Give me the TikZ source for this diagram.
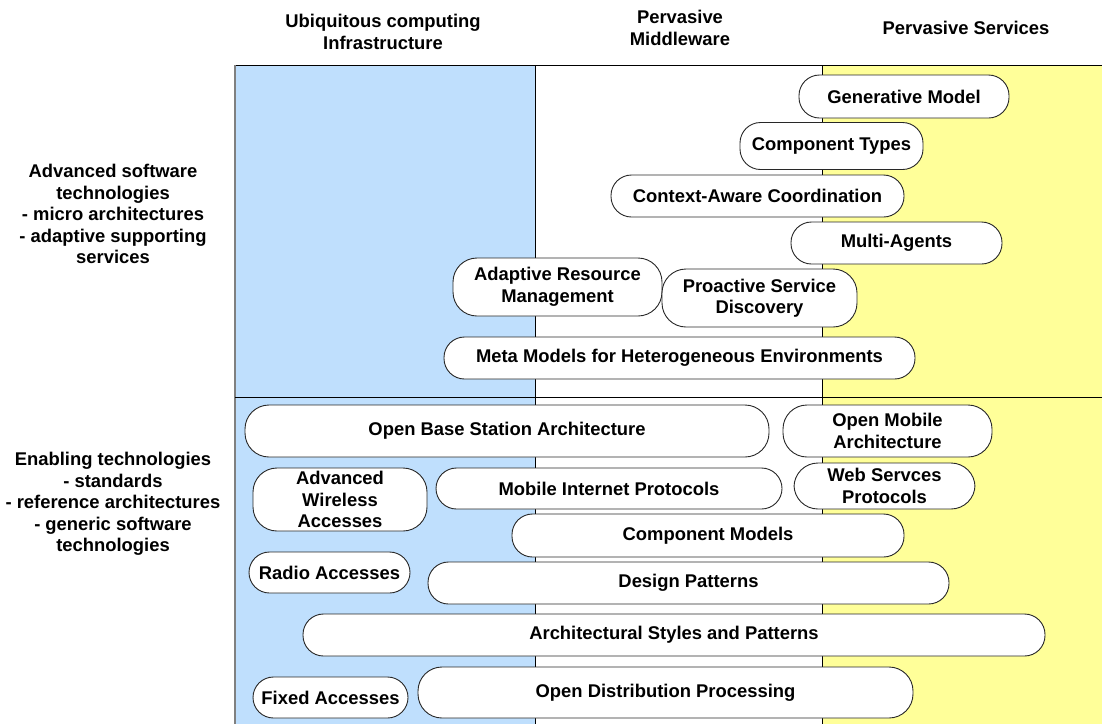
\documentclass[tikz,border=0pt]{standalone}
\usepackage{fontspec}
\setmainfont{Liberation Sans}
\definecolor{colblue}{RGB}{191,223,253}
\definecolor{colyellow}{RGB}{255,255,153}
\definecolor{boxline}{RGB}{40,40,40}
\begin{document}
\begin{tikzpicture}[x=1pt,y=-1pt,
  pill/.style={draw=boxline, line width=0.9pt, fill=white, rounded corners=20.5pt,
    inner sep=0pt, align=center, font=\fontsize{18.4}{21.5}\selectfont\bfseries},
  pillbig/.style={pill, rounded corners=24pt},
  hdr/.style={align=center, inner sep=0pt, font=\fontsize{18.4}{21.5}\selectfont\bfseries},
  rule/.style={line width=1pt, black}]
\useasboundingbox (0,0) rectangle (1102,724);
% columns
\fill[colblue] (235,65) rectangle (535,724);
\fill[colyellow] (822,65) rectangle (1102,724);
\draw[rule] (235,65) -- (1102,65);
\draw[line width=2pt, gray] (235,65) -- (235,724);
\draw[rule] (535,65) -- (535,724);
\draw[rule] (822,65) -- (822,724);
\draw[rule] (235,397) -- (1102,397);
% headers
\node[hdr] (h1) at (383,32) {Ubiquitous computing\\Infrastructure};
\node[hdr] (h2) at (680,28) {Pervasive\\Middleware};
\node[hdr] (h3) at (966,28) {Pervasive Services};
\node[hdr] (r1) at (113,214) {Advanced software\\technologies\\- micro architectures\\- adaptive supporting\\services};
\node[hdr] (r2) at (113,504) {Enabling technologies\\- standards\\- reference architectures\\- generic software\\technologies};
% upper boxes
\node[pill, minimum width=210pt, minimum height=43pt] (gen) at (904,96.5) {Generative Model};
\node[pill, minimum width=183pt, minimum height=47pt] (ctypes) at (831.5,146) {Component Types};
\node[pill, minimum width=293pt, minimum height=42pt] (ctx) at (757.5,196) {Context-Aware Coordination};
\node[pill, minimum width=211pt, minimum height=42pt] (multi) at (896.5,243) {Multi-Agents};
\node[pillbig, minimum width=209pt, minimum height=58pt] (arm) at (557.5,287) {Adaptive Resource\\Management};
\node[pillbig, minimum width=195pt, minimum height=58pt] (psd) at (759.5,298) {Proactive Service\\Discovery};
\node[pill, minimum width=471pt, minimum height=42pt] (meta) at (679.5,358) {Meta Models for Heterogeneous Environments};
% lower boxes
\node[pillbig, minimum width=524pt, minimum height=52pt] (obsa) at (507,431) {Open Base Station Architecture};
\node[pillbig, minimum width=209pt, minimum height=52pt] (oma) at (887.5,431) {Open Mobile\\Architecture};
\node[pillbig, minimum width=174pt, minimum height=63pt] (awa) at (340,499.5) {Advanced\\Wireless\\Accesses};
\node[pill, minimum width=346pt, minimum height=41pt] (mip) at (609,488.5) {Mobile Internet Protocols};
\node[pillbig, minimum width=181pt, minimum height=46pt] (wsp) at (884.5,486) {Web Servces\\Protocols};
\node[pill, minimum width=392pt, minimum height=43pt] (cm) at (708,535.5) {Component Models};
\node[pill, minimum width=161pt, minimum height=41pt] (radio) at (329.5,572.5) {Radio Accesses};
\node[pill, minimum width=521pt, minimum height=42pt] (dp) at (688.5,583) {Design Patterns};
\node[pill, minimum width=742pt, minimum height=42pt] (asp) at (674,635) {Architectural Styles and Patterns};
\node[pill, minimum width=155pt, minimum height=41pt] (fixed) at (330.5,697.5) {Fixed Accesses};
\node[pillbig, minimum width=495pt, minimum height=51pt] (odp) at (665.5,692.5) {Open Distribution Processing};
\end{tikzpicture}
\end{document}
